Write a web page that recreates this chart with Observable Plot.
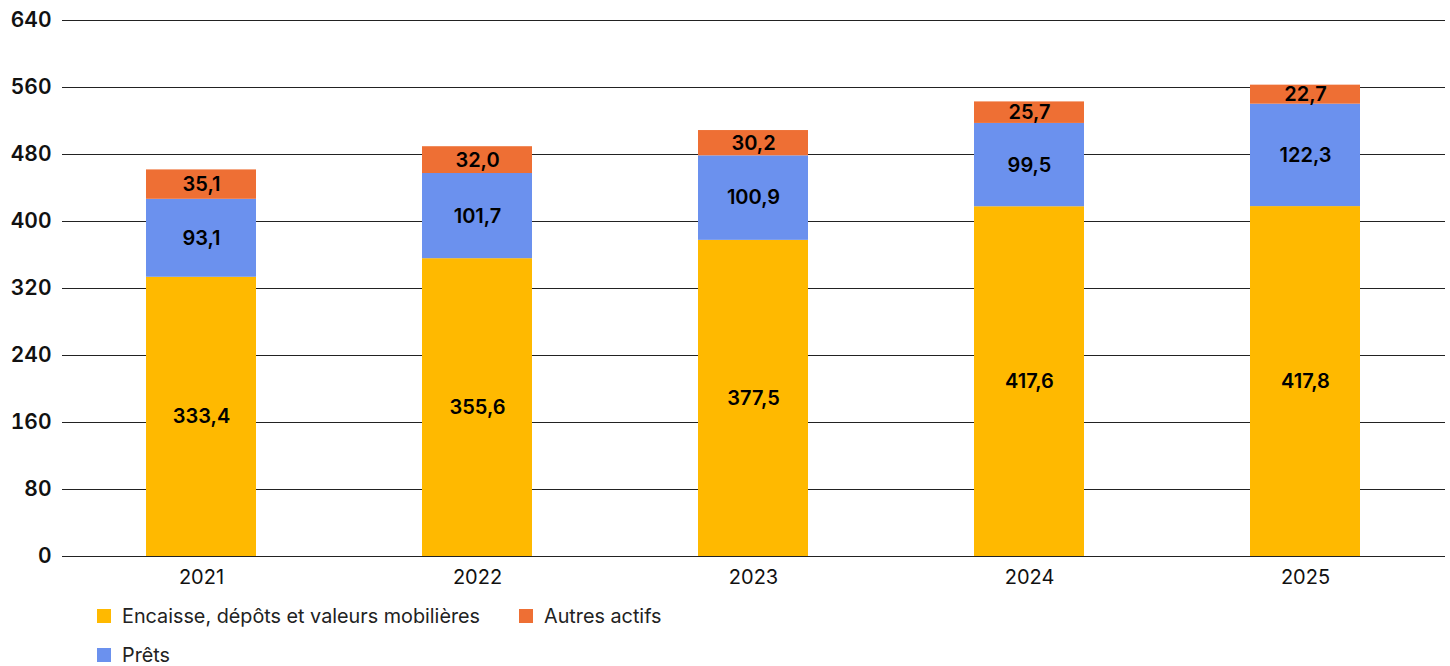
<!DOCTYPE html>
<html>
<head>
<meta charset="utf-8">
<script src="https://cdn.jsdelivr.net/npm/d3@7"></script>
<script src="https://cdn.jsdelivr.net/npm/@observablehq/plot@0.6"></script>
<style>
  html, body { margin: 0; padding: 0; background: #fff; }
  body { width: 1450px; height: 666px; position: relative; overflow: hidden; font-family: Inter, "Noto Sans", sans-serif; }
  #chart { position: absolute; left: 0; top: 0; }
  .legend { position: absolute; font-size: 19.8px; color: #222; display: flex; align-items: center; }
  .legend .sw { width: 14px; height: 14px; margin-right: 11px; }
</style>
</head>
<body>
<div id="chart"></div>
<div id="legend"></div>
<script>
const years = ["2021", "2022", "2023", "2024", "2025"];
const series = ["Encaisse, dépôts et valeurs mobilières", "Prêts", "Autres actifs"];
const encaisse = [333.4, 355.6, 377.5, 417.6, 417.8];
const prets = [93.1, 101.7, 100.9, 99.5, 122.3];
const autres = [35.1, 32.0, 30.2, 25.7, 22.7];
const yTicks = [0, 80, 160, 240, 320, 400, 480, 560, 640];
const colors = ["#FFB900", "#6B91EE", "#EE6F34"];

const values = [encaisse, prets, autres];
const data = [];
series.forEach((s, si) => years.forEach((y, yi) => data.push({year: y, series: s, value: values[si][yi]})));
const fmt = v => v.toFixed(1).replace(".", ",");

const chart = Plot.plot({
  width: 1450,
  height: 590,
  marginTop: 20,
  marginBottom: 34,
  marginLeft: 62,
  marginRight: 5,
  style: {fontFamily: "Inter, 'Noto Sans', sans-serif", fontSize: "20px", color: "#111", background: "#fff"},
  x: {domain: years, paddingInner: 0.6, paddingOuter: 0.3, label: null},
  y: {domain: [0, 640], label: null},
  color: {domain: series, range: colors},
  marks: [
    Plot.ruleY(yTicks, {stroke: "#222", strokeWidth: 1.2}),
    Plot.barY(data, Plot.stackY({x: "year", y: "value", fill: "series", order: series})),
    Plot.text(data, Plot.stackY({x: "year", y: "value", z: "series", order: series, text: d => fmt(d.value), fill: "#000", fontSize: 20, fontWeight: 600})),
    Plot.axisY({ticks: yTicks, tickSize: 0, tickPadding: 11, fontWeight: 600, fontSize: 21, label: null, textAnchor: "end", fill: "#111"}),
    Plot.axisX({tickSize: 0, tickPadding: 13, fontSize: 20, label: null, fill: "#111"})
  ]
});
document.getElementById("chart").appendChild(chart);

const legendPos = [[97, 616], [97, 655], [519, 616]];
const leg = document.getElementById("legend");
series.forEach((s, i) => {
  const el = document.createElement("div");
  el.className = "legend";
  el.style.left = legendPos[i][0] + "px";
  el.style.top = (legendPos[i][1] - 12) + "px";
  el.innerHTML = `<div class="sw" style="background:${colors[i]}"></div><span>${s}</span>`;
  leg.appendChild(el);
});
</script>
</body>
</html>
